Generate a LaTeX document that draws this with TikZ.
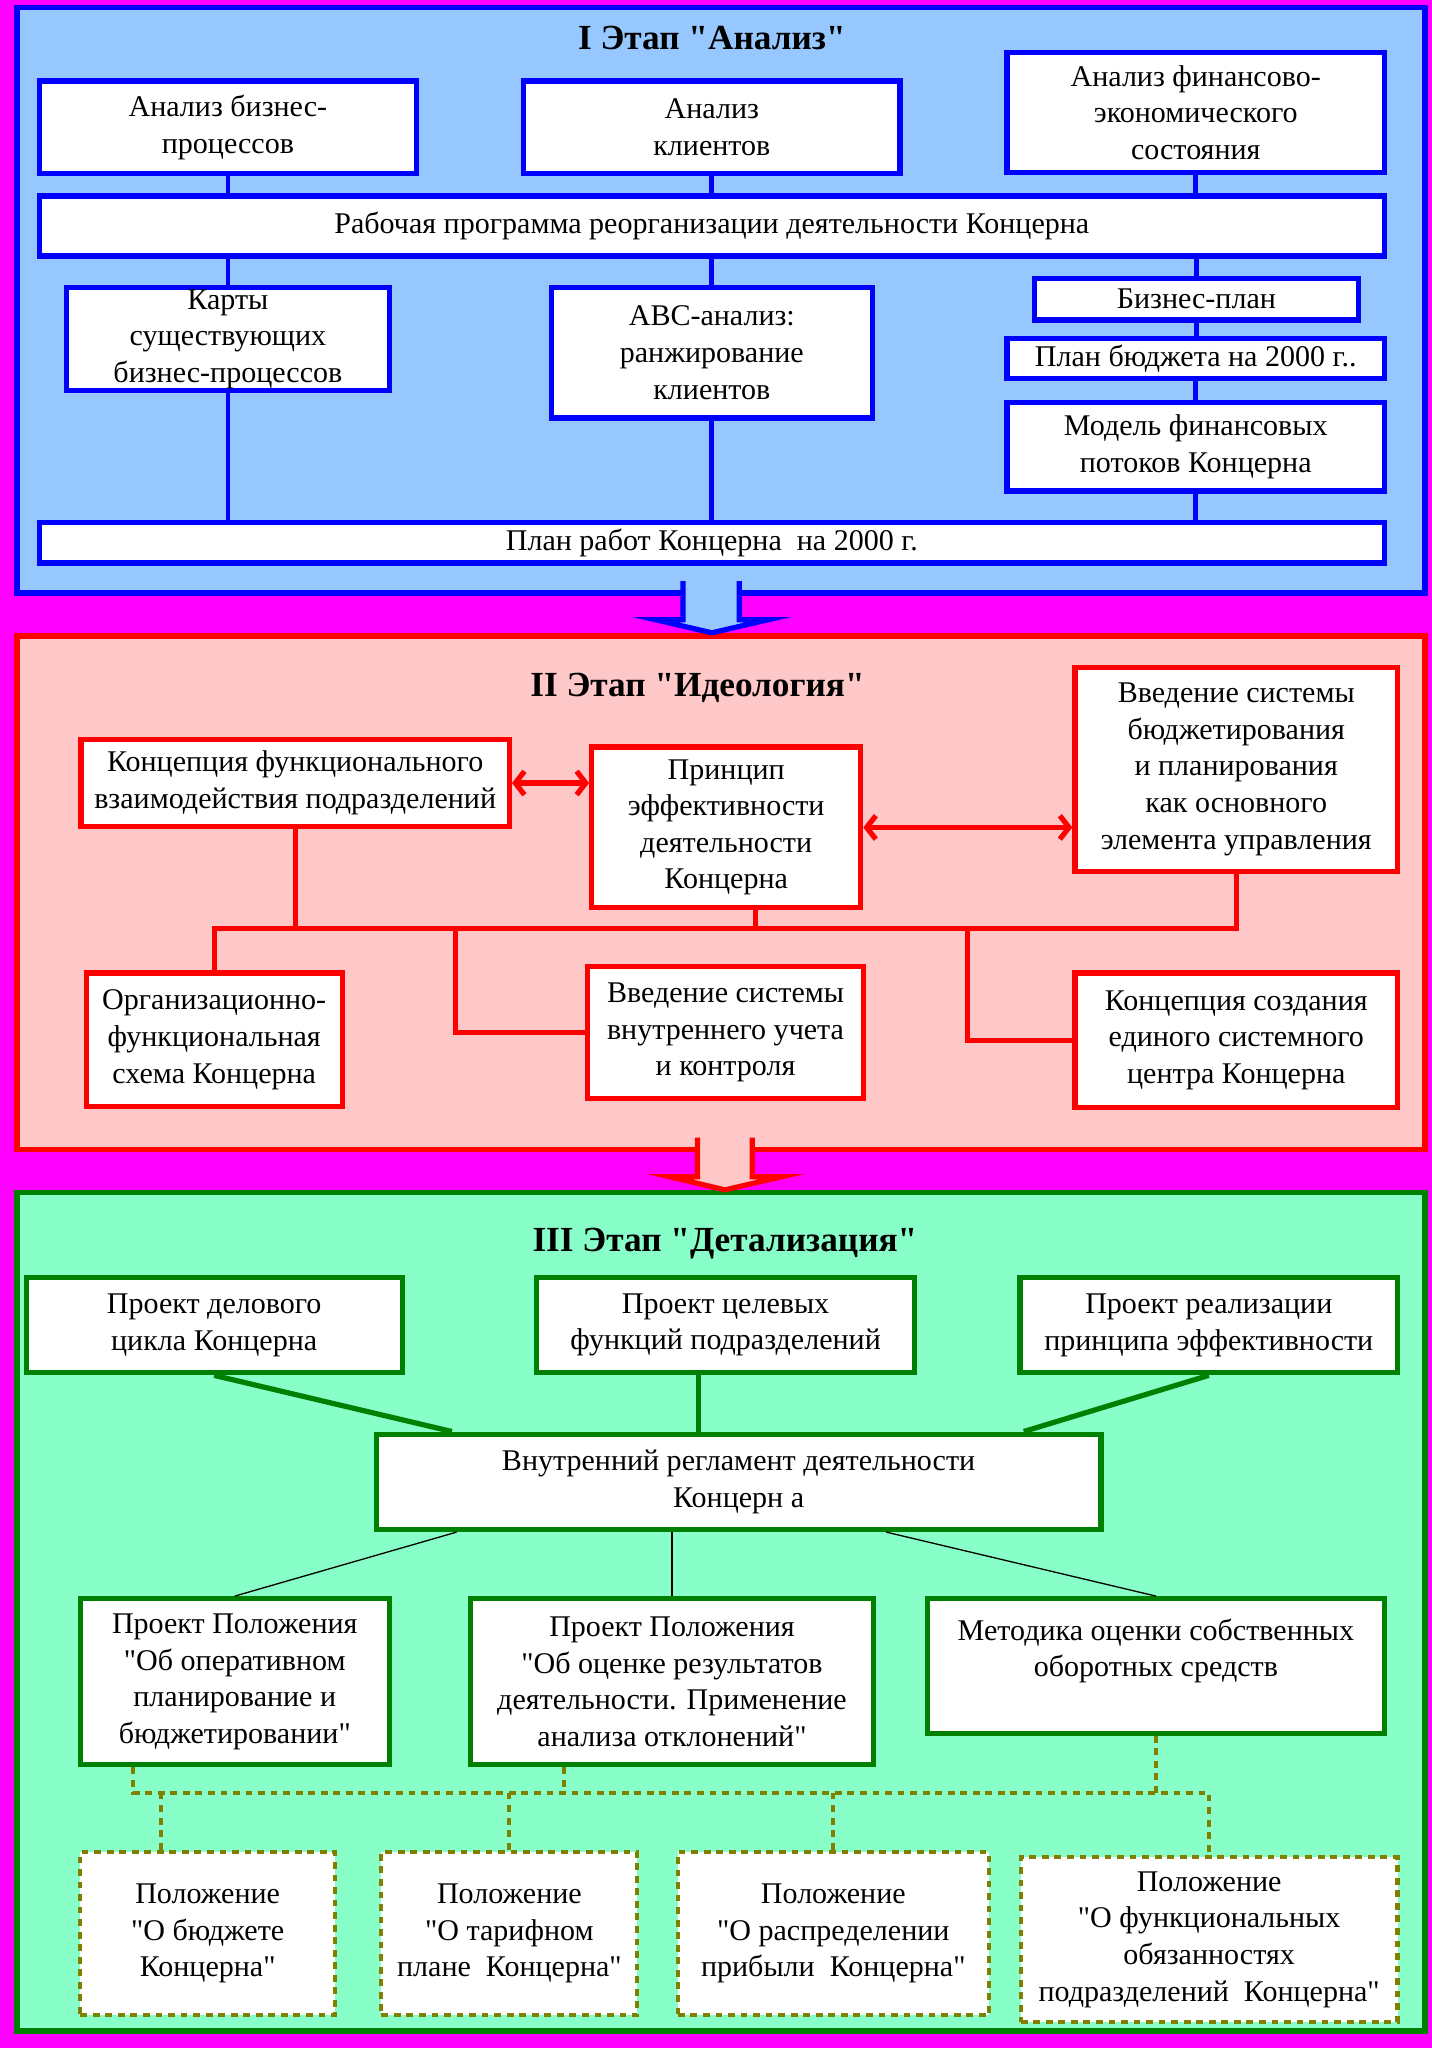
\documentclass[tikz,border=0pt]{standalone}
\usepackage{fontspec}
\setmainfont{Liberation Serif}[Ligatures=TeXOff]
\usetikzlibrary{arrows.meta}
\definecolor{pinkbg}{RGB}{255,0,255}
\definecolor{blueback}{RGB}{150,200,255}
\definecolor{redback}{RGB}{255,200,200}
\definecolor{greenback}{RGB}{136,255,200}
\definecolor{darkgreen}{RGB}{0,128,0}
\definecolor{dotolive}{RGB}{128,128,0}
\newcommand{\qt}{\symbol{34}}
\begin{document}
\begin{tikzpicture}[x=0.5pt,y=-0.5pt,
    every node/.style={align=center,inner xsep=2pt,inner ysep=0pt,
                       font=\fontsize{11.5}{14}\selectfont},
    sz/.style 2 args={minimum width=#1pt,minimum height=#2pt},
    ttl/.style={font=\fontsize{13.5}{16}\selectfont\bfseries},
    bbox/.style={draw=blue,fill=white,line width=2pt},
    rbox/.style={draw=red,fill=white,line width=2pt},
    gbox/.style={draw=darkgreen,fill=white,line width=2pt},
    obox/.style={draw=dotolive,fill=white,line width=1.6pt,dash pattern=on 2.6pt off 2.2pt},
    bl/.style={draw=blue,line width=1.8pt},
    rl/.style={draw=red,line width=2pt},
    gl/.style={draw=darkgreen,line width=2pt},
    tl/.style={draw=black,line width=0.5pt},
    ol/.style={draw=dotolive,line width=1.6pt,dash pattern=on 2.6pt off 2.2pt},
    barb/.style={{Straight Barb[length=3.5pt,width=9pt]}-{Straight Barb[length=3.5pt,width=9pt]}}]

  \fill[pinkbg] (0,0) rectangle (1096,1568);
  \useasboundingbox (0,0) rectangle (1096,1568);

  % panels
  \draw[blue,fill=blueback,line width=2pt] (13,6) rectangle (1091,454);
  \draw[red,fill=redback,line width=2pt] (13,487) rectangle (1091,880);
  \draw[darkgreen,fill=greenback,line width=2pt] (13,913) rectangle (1091,1555);

  % arrows between the stages
  \fill[blueback] (523,445) -- (523,474.5) -- (502,474.5) -- (545,484.5) --
        (588,474.5) -- (566,474.5) -- (566,445) -- cycle;
  \draw[blue,line width=2pt] (523,445) -- (523,474.5) -- (502,474.5) -- (545,484.5) --
        (588,474.5) -- (566,474.5) -- (566,445);
  \fill[redback] (534,871) -- (534,901) -- (513,901) -- (555,911) --
        (598,901) -- (576,901) -- (576,871) -- cycle;
  \draw[red,line width=2pt] (534,871) -- (534,901) -- (513,901) -- (555,911) --
        (598,901) -- (576,901) -- (576,871);

  % stage I
  \node[ttl] (t1) at (545,29) {I Этап \qt Анализ\qt};
  \node[bbox,sz={144.5}{35.5}] (abp) at (174.5,97.5) {Анализ бизнес-\\процессов};
  \node[bbox,sz={144}{35.5}] (acl) at (545,97.5) {Анализ\\клиентов};
  \node[bbox,sz={144.5}{46}] (afe) at (915.5,86) {Анализ финансово-\\экономического\\состояния};
  \node[bbox,sz={515}{23}] (rp) at (545,173) {Рабочая программа реорганизации деятельности Концерна};
  \node[bbox,sz={123.5}{39.5}] (kart) at (174.5,259.5) {Карты\\существующих\\бизнес-процессов};
  \node[bbox,sz={123}{50}] (abc) at (545,270) {ABC-анализ:\\ранжирование\\клиентов};
  \node[bbox,sz={124}{16}] (bp) at (916,229) {Бизнес-план};
  \node[bbox,sz={144.5}{15.5}] (pb) at (915.5,274.5) {План бюджета на 2000 г..};
  \node[bbox,sz={144.5}{34}] (mf) at (915.5,342) {Модель финансовых\\потоков Концерна};
  \node[bbox,sz={515}{15.5}] (pr) at (545,415.5) {План работ Концерна\ \ на 2000 г.};

  \draw[bl] (abp.south) -- (abp.south |- rp.north);
  \draw[bl] (acl.south) -- (acl.south |- rp.north);
  \draw[bl] (afe.south) -- (afe.south |- rp.north);
  \draw[bl] (rp.south -| kart.north) -- (kart.north);
  \draw[bl] (rp.south -| abc.north) -- (abc.north);
  \draw[bl] (rp.south -| bp.north) -- (bp.north);
  \draw[bl] (bp.south) -- (bp.south |- pb.north);
  \draw[bl] (pb.south) -- (pb.south |- mf.north);
  \draw[bl] (kart.south) -- (kart.south |- pr.north);
  \draw[bl] (abc.south) -- (abc.south |- pr.north);
  \draw[bl] (mf.south) -- (mf.south |- pr.north);

  % stage II
  \node[ttl] (t2) at (534,527) {II Этап \qt Идеология\qt};
  \node[rbox,sz={164}{33.5}] (kfv) at (226,599.5) {Концепция функционального\\взаимодействия подразделений};
  \node[rbox,sz={103}{61.5}] (pe) at (556,633.5) {Принцип\\эффективности\\деятельности\\Концерна};
  \node[rbox,sz={123.5}{78}] (vsb) at (946.5,589) {Введение системы\\бюджетирования\\и планирования\\как основного\\элемента управления};
  \node[rbox,sz={98}{51}] (ofs) at (164,796) {Организационно-\\функциональная\\схема Концерна};
  \node[rbox,sz={105.5}{50.5}] (vvu) at (555.5,790.5) {Введение системы\\внутреннего учета\\и контроля};
  \node[rbox,sz={123.5}{51.5}] (kse) at (946.5,796.5) {Концепция создания\\единого системного\\центра Концерна};

  \draw[rl,barb] (kfv.east) -- (kfv.east -| pe.west);
  \draw[rl,barb] (pe.east) -- (pe.east -| vsb.west);
  \coordinate (rbus) at (0,711);
  \coordinate (rb2) at (349,711);
  \coordinate (rb3) at (740.7,711);
  \draw[rl] (ofs.north) -- (ofs.north |- rbus) -- (vsb.south |- rbus) -- (vsb.south);
  \draw[rl] (kfv.south) -- (kfv.south |- rbus);
  \draw[rl] ([xshift=11.15pt]pe.south) -- ([xshift=11.15pt]pe.south |- rbus);
  \draw[rl] (rb2) |- (vvu.west);
  \draw[rl] (rb3) |- (kse.west);

  % stage III
  \node[ttl] (t3) at (555,952) {III Этап \qt Детализация\qt};
  \node[gbox,sz={144}{36.5}] (pdc) at (164,1014.5) {Проект делового\\цикла Концерна};
  \node[gbox,sz={144.5}{36.5}] (pcf) at (555.5,1014.5) {Проект целевых\\функций подразделений};
  \node[gbox,sz={144.5}{36.5}] (prp) at (925.5,1014.5) {Проект реализации\\принципа эффективности};
  \node[gbox,sz={277.5}{36.5}] (vrd) at (565.5,1134.5) {Внутренний регламент деятельности\\Концерн а};
  \node[gbox,sz={118.25}{63.5}] (ppo1) at (179.75,1287.5) {Проект Положения\\\qt Об оперативном\\планирование и\\бюджетировании\qt};
  \node[gbox,sz={154.5}{63.5}] (ppo2) at (514.5,1287.5) {Проект Положения\\\qt Об оценке результатов\\деятельности. Применение\\анализа отклонений\qt};
  \node[gbox,sz={175}{51.5}] (met) at (885,1275.5) {Методика оценки собственных\\оборотных средств\\\mbox{}};

  \draw[gl] (pdc.south) -- ([xshift=-109.75pt]vrd.north);
  \draw[gl] ([xshift=-10.25pt]pcf.south) -- ([xshift=-10.25pt]pcf.south |- vrd.north);
  \draw[gl] (prp.south) -- ([xshift=109.15pt]vrd.north);
  \draw[tl] ([xshift=-107.95pt]vrd.south) -- (ppo1.north);
  \draw[tl] (ppo2.north |- vrd.south) -- (ppo2.north);
  \draw[tl] ([xshift=56.5pt]vrd.south) -- (met.north);

  \node[obox,sz={97.5}{62.5}] (pa) at (159,1480.5) {Положение\\\qt О бюджете\\Концерна\qt};
  \node[obox,sz={98}{62.5}] (pt) at (390,1480.5) {Положение\\\qt О тарифном\\плане\ \ Концерна\qt};
  \node[obox,sz={119}{62.5}] (pp) at (638,1480.5) {Положение\\\qt О распределении\\прибыли\ \ Концерна\qt};
  \node[obox,sz={144.25}{63}] (pd) at (925.75,1485) {Положение\\\qt О функциональных\\обязанностях\\подразделений\ \ Концерна\qt};

  \coordinate (obus) at (0,1372.5);
  \draw[ol] ([xshift=-38.9pt]ppo1.south) -- ([xshift=-38.9pt]ppo1.south |- obus) -- (pd.north |- obus) -- (pd.north);
  \draw[ol] ([xshift=-41.45pt]ppo2.south) -- ([xshift=-41.45pt]ppo2.south |- obus);
  \draw[ol] (met.south) -- (met.south |- obus);
  \draw[ol] ([xshift=-18pt]pa.north |- obus) -- ([xshift=-18pt]pa.north);
  \draw[ol] (pt.north |- obus) -- (pt.north);
  \draw[ol] (pp.north |- obus) -- (pp.north);
\end{tikzpicture}
\end{document}
